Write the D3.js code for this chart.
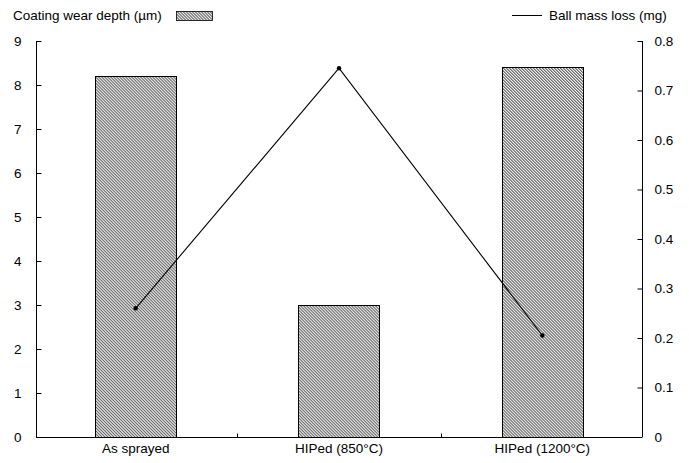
<!DOCTYPE html>
<html>
<head>
<meta charset="utf-8">
<script src="https://cdn.jsdelivr.net/npm/d3@7"></script>
<style>
  body { margin: 0; background: #fff; }
  svg text { font-family: "Liberation Sans", Arial, sans-serif; font-size: 13.5px; fill: #000; }
</style>
</head>
<body>
<svg id="chart" width="689" height="463"></svg>
<script>
var categories = ["As sprayed", "HIPed (850°C)", "HIPed (1200°C)"];
var wearDepth = [8.2, 3.0, 8.4];
var massLoss = [0.26, 0.745, 0.205];
var leftTicks = [0, 1, 2, 3, 4, 5, 6, 7, 8, 9];
var rightTicks = [0, 0.1, 0.2, 0.3, 0.4, 0.5, 0.6, 0.7, 0.8];

var svg = d3.select("#chart");
var mLeft = 36, mRight = 642, mTop = 41, mBottom = 437;
var font = "Liberation Sans, Arial, sans-serif";

// fine "\" hatch
var pat = svg.append("defs").append("pattern")
    .attr("id", "hatch")
    .attr("patternUnits", "userSpaceOnUse")
    .attr("width", 2.12)
    .attr("height", 2.12)
    .attr("patternTransform", "rotate(-45)");
pat.append("rect").attr("width", 2.12).attr("height", 2.12).attr("fill", "#fff");
pat.append("line")
    .attr("x1", 0.5).attr("y1", 0).attr("x2", 0.5).attr("y2", 2.12)
    .attr("stroke", "#3a3a3a").attr("stroke-width", 0.9);

var x = d3.scaleBand()
    .domain(categories)
    .range([mLeft - 2, mRight + 2])
    .paddingInner(0.6)
    .paddingOuter(0.3);

var yL = d3.scaleLinear().domain([0, 9]).range([mBottom, mTop]);
var yR = d3.scaleLinear().domain([0, 0.8]).range([mBottom, mTop]);

function mid(d) { return x(d) + x.bandwidth() / 2; }

// bars
svg.selectAll(".bar")
    .data(categories)
    .enter().append("rect")
    .attr("class", "bar")
    .attr("x", function (d) { return Math.round(x(d)) + 0.5; })
    .attr("y", function (d, i) { return Math.round(yL(wearDepth[i])) + 0.5; })
    .attr("width", Math.round(x.bandwidth()))
    .attr("height", function (d, i) { return mBottom - Math.round(yL(wearDepth[i])); })
    .attr("fill", "url(#hatch)")
    .attr("stroke", "#000")
    .attr("stroke-width", 1);

// left axis
var gl = svg.append("g")
    .attr("transform", "translate(" + (mLeft + 0.5) + ",0)")
    .call(d3.axisRight(yL).tickValues(leftTicks).tickSize(5).tickFormat(d3.format("d")));
gl.select(".domain").attr("d", "M0," + mTop + "V" + mBottom);
gl.selectAll("text").attr("x", -15).attr("text-anchor", "end")
    .style("font-family", font).style("font-size", "13.5px");

// right axis
var gr = svg.append("g")
    .attr("transform", "translate(" + (mRight + 0.5) + ",0)")
    .call(d3.axisLeft(yR).tickValues(rightTicks).tickSize(5)
        .tickFormat(function (d) { return d === 0 ? "0" : d3.format(".1f")(d); }));
gr.select(".domain").attr("d", "M0," + mTop + "V" + mBottom);
gr.selectAll("text").attr("x", 12).attr("text-anchor", "start")
    .style("font-family", font).style("font-size", "13.5px");

// bottom axis
var gb = svg.append("g")
    .attr("transform", "translate(0," + (mBottom + 0.5) + ")")
    .call(d3.axisBottom(x).tickSize(0).tickPadding(6));
gb.select(".domain").attr("d", "M" + mLeft + ",0H" + mRight);
gb.selectAll("text")
    .style("font-family", font).style("font-size", "13.5px");

// small separator ticks between categories
gb.selectAll(".sep")
    .data(categories.slice(1))
    .enter().append("line")
    .attr("class", "sep")
    .attr("x1", function (d, i) { return Math.round((mid(categories[i]) + mid(d)) / 2) + 0.5; })
    .attr("x2", function (d, i) { return Math.round((mid(categories[i]) + mid(d)) / 2) + 0.5; })
    .attr("y1", 0).attr("y2", -4)
    .attr("stroke", "#000");

// line
var line = d3.line()
    .x(function (d, i) { return mid(categories[i]); })
    .y(function (d) { return yR(d); });
svg.append("path")
    .datum(massLoss)
    .attr("d", line)
    .attr("fill", "none")
    .attr("stroke", "#000")
    .attr("stroke-width", 1.1);
svg.selectAll(".pt")
    .data(massLoss)
    .enter().append("circle")
    .attr("cx", function (d, i) { return mid(categories[i]); })
    .attr("cy", function (d) { return yR(d); })
    .attr("r", 2.2)
    .attr("fill", "#000");

// legends
svg.append("text").attr("x", 13).attr("y", 20).text("Coating wear depth (\u00b5m)");
svg.append("rect").attr("x", 176.5).attr("y", 11.5).attr("width", 36).attr("height", 9)
    .attr("fill", "url(#hatch)").attr("stroke", "#000").attr("stroke-width", 0.8);
svg.append("line").attr("x1", 512).attr("x2", 542).attr("y1", 15.5).attr("y2", 15.5)
    .attr("stroke", "#000").attr("stroke-width", 1);
svg.append("text").attr("x", 549).attr("y", 20).text("Ball mass loss (mg)");
</script>
</body>
</html>
